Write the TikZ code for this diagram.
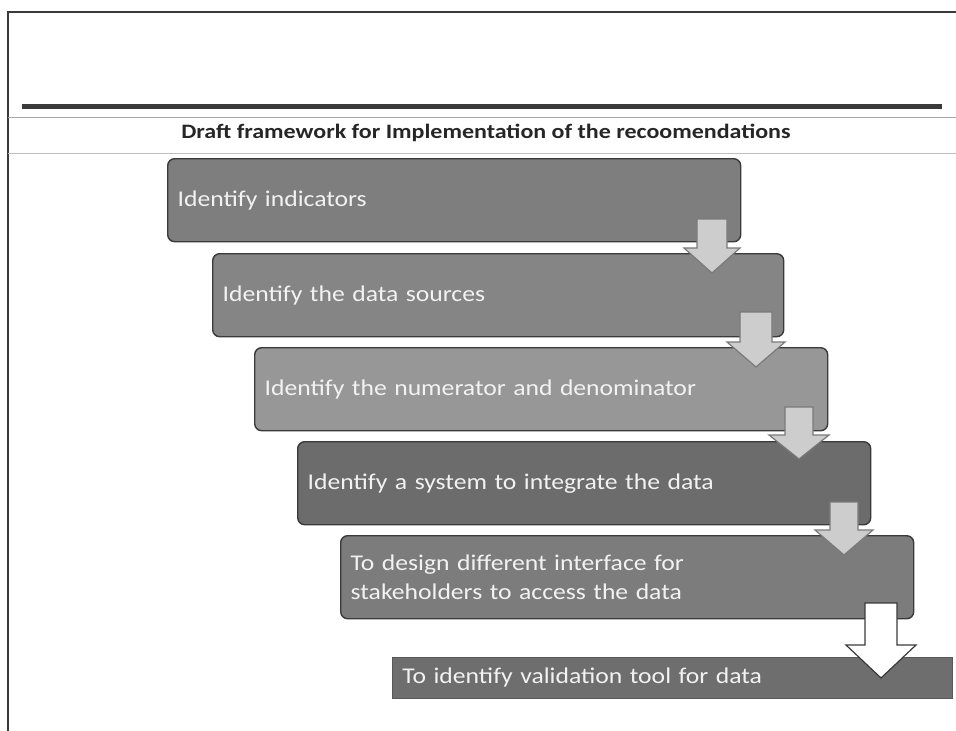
\documentclass[tikz,border=0pt]{standalone}
\usepackage{fontspec}
\setmainfont{Carlito}
\newfontfamily\boxfont[FakeStretch=1.14]{Carlito}
\newfontfamily\titlefont[FakeStretch=1.17]{Carlito}
\usetikzlibrary{calc}
\definecolor{frameline}{HTML}{3A3A3A}
\definecolor{boxA}{HTML}{7E7E7E}
\definecolor{boxB}{HTML}{858585}
\definecolor{boxC}{HTML}{979797}
\definecolor{boxD}{HTML}{6C6C6C}
\definecolor{boxE}{HTML}{7C7C7C}
\definecolor{boxF}{HTML}{6E6E6E}
\definecolor{txt}{HTML}{F2F2F2}
\definecolor{arrowfill}{HTML}{CDCDCD}
\definecolor{arrowedge}{HTML}{7A7A7A}
\tikzset{
  stepbox/.style={draw=frameline, line width=1.4pt, rounded corners=7pt,
    text=txt, font=\boxfont\fontsize{22.5}{29}\selectfont, align=left, inner xsep=10pt,
    minimum height=83pt, anchor=north west},
  lastbox/.style={stepbox, rounded corners=0pt, draw=boxF!80!black, line width=0.8pt, minimum height=41pt},
  blockarrow/.style={draw=arrowedge, line width=1.2pt, fill=arrowfill, line join=miter},
  whitearrow/.style={draw=frameline, line width=1.2pt, fill=white, line join=miter}
}
% #1 style, #2 centre x, #3 shaft half width, #4 top y, #5 head y, #6 head half width, #7 tip y
\newcommand\downarrowshape[7]{%
  \draw[#1] (#2-#3,#4) -- (#2+#3,#4) -- (#2+#3,#5) -- (#2+#6,#5) -- (#2,#7)
     -- (#2-#6,#5) -- (#2-#3,#5) -- cycle;}
\begin{document}
\begin{tikzpicture}[x=1pt,y=-1pt]
\useasboundingbox (0,0) rectangle (956,731);
% frame lines
\draw[frameline, line width=1.4pt] (8,731) -- (8,12) -- (956,12);
\draw[frameline, line width=5pt] (22,106) -- (942,106);
\draw[gray!70, line width=1pt] (8,117) -- (956,117);
\draw[gray!50, line width=1pt] (8,153) -- (956,153);
\node[font=\titlefont\fontsize{20.5}{24}\selectfont\bfseries, text=black!85] (title) at (486,133)
  {Draft framework for Implementation of the recoomendations};
% steps
\node[stepbox, fill=boxA, minimum width=573pt, text width=553pt] (s1) at (167,158) {Identify indicators};
\node[stepbox, fill=boxB, minimum width=571pt, text width=551pt] (s2) at (212,253) {Identify the data sources};
\node[stepbox, fill=boxC, minimum width=573pt, text width=553pt] (s3) at (254,347) {Identify the numerator and denominator};
\node[stepbox, fill=boxD, minimum width=573pt, text width=553pt] (s4) at (297,441) {Identify a system to integrate the data};
\node[stepbox, fill=boxE, minimum width=573pt, text width=553pt] (s5) at (340,535) {To design different interface for\\stakeholders to access the data};
\node[lastbox, fill=boxF, minimum width=560pt, text width=540pt] (s6) at (392,657) {To identify validation tool for data};
% arrows
\downarrowshape{blockarrow}{712}{15}{219}{248}{28}{273}
\downarrowshape{blockarrow}{756}{16}{312}{342}{29}{367}
\downarrowshape{blockarrow}{799}{14}{407}{435}{30}{459}
\downarrowshape{blockarrow}{844}{14}{502}{530}{29}{555}
\downarrowshape{whitearrow}{881}{16}{603}{645}{35}{678}
\end{tikzpicture}
\end{document}
